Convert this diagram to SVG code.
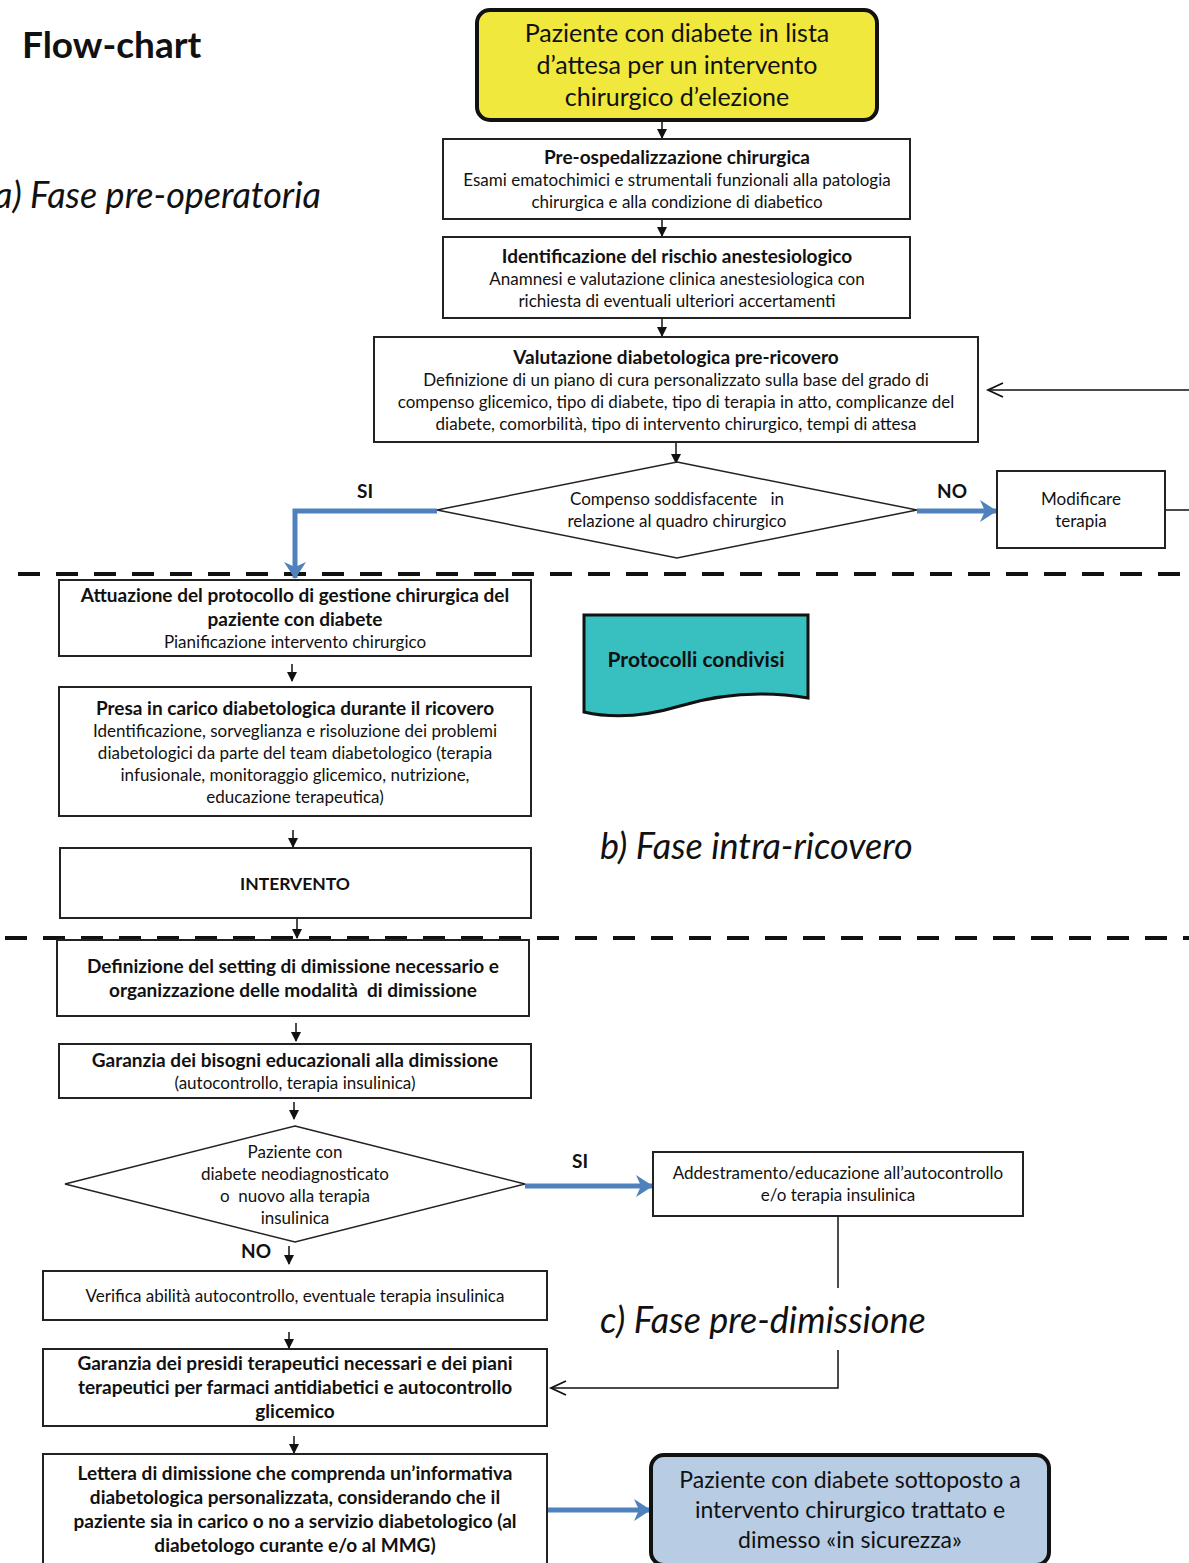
<svg xmlns="http://www.w3.org/2000/svg" width="1189" height="1563" viewBox="0 0 1189 1563">
<defs>
<style>
text{font-family:Lato,"Open Sans","Liberation Sans",sans-serif;fill:#111;text-anchor:middle}
.b{font-weight:bold}
.box{fill:#fff;stroke:#222;stroke-width:2}
.t{font-size:17px}
.h{font-size:19px;font-weight:bold}
.lab{font-size:19px;font-weight:bold}
.phase{font-size:36px;font-style:italic;text-anchor:start}
.ln{fill:none;stroke:#111;stroke-width:1.5}
.blue{fill:none;stroke:#4f81bd;stroke-width:5}
.dash{stroke:#111;stroke-width:4;stroke-dasharray:22 16}
</style>
<marker id="ah" markerWidth="10" markerHeight="10" refX="9" refY="5" orient="auto" markerUnits="userSpaceOnUse"><path d="M0,0 L10,5 L0,10 Z" fill="#111"/></marker>
<marker id="open" markerWidth="20" markerHeight="20" refX="16" refY="10" orient="auto" markerUnits="userSpaceOnUse"><path d="M1,3 L16,10 L1,17" fill="none" stroke="#111" stroke-width="1.8"/></marker>
<marker id="bh" markerWidth="22" markerHeight="24" refX="20" refY="12" orient="auto" markerUnits="userSpaceOnUse"><path d="M4,1 L21,12 L4,23 L9,12 Z" fill="#4f81bd"/></marker>
</defs>
<rect width="1189" height="1563" fill="#fff"/>

<text x="22" y="58" style="font-size:37px;font-weight:bold;text-anchor:start">Flow-chart</text>
<text x="-6" y="208" class="phase">a) Fase pre-operatoria</text>
<text x="600" y="859" class="phase">b) Fase intra-ricovero</text>
<text x="600" y="1333" class="phase">c) Fase pre-dimissione</text>

<g id="dividers">
<line x1="18" y1="574" x2="1189" y2="574" class="dash"/>
<line x1="5" y1="938" x2="1189" y2="938" class="dash"/>
</g>

<g id="connectors">
<line x1="662" y1="120" x2="662" y2="138" class="ln" marker-end="url(#ah)"/>
<line x1="662" y1="219" x2="662" y2="236" class="ln" marker-end="url(#ah)"/>
<line x1="662" y1="318" x2="662" y2="336" class="ln" marker-end="url(#ah)"/>
<line x1="676" y1="442" x2="676" y2="463" class="ln" marker-end="url(#ah)"/>
<path d="M437,511 H295 V578" class="blue" marker-end="url(#bh)"/>
<line x1="917" y1="511" x2="996" y2="511" class="blue" marker-end="url(#bh)"/>
<line x1="1165" y1="510" x2="1189" y2="510" class="ln"/>
<line x1="1189" y1="390" x2="988" y2="390" class="ln" marker-end="url(#open)"/>
<line x1="292" y1="664" x2="292" y2="681" class="ln" marker-end="url(#ah)"/>
<line x1="293" y1="830" x2="293" y2="847" class="ln" marker-end="url(#ah)"/>
<line x1="297" y1="918" x2="297" y2="938" class="ln" marker-end="url(#ah)"/>
<line x1="296" y1="1023" x2="296" y2="1041" class="ln" marker-end="url(#ah)"/>
<line x1="294" y1="1102" x2="294" y2="1119" class="ln" marker-end="url(#ah)"/>
<line x1="525" y1="1186" x2="652" y2="1186" class="blue" marker-end="url(#bh)"/>
<line x1="838" y1="1216" x2="838" y2="1288" class="ln"/>
<path d="M838,1350 V1388 H551" class="ln" marker-end="url(#open)"/>
<line x1="289" y1="1246" x2="289" y2="1264" class="ln" marker-end="url(#ah)"/>
<line x1="289" y1="1332" x2="289" y2="1348" class="ln" marker-end="url(#ah)"/>
<line x1="294" y1="1436" x2="294" y2="1453" class="ln" marker-end="url(#ah)"/>
<line x1="547" y1="1510" x2="650" y2="1510" class="blue" marker-end="url(#bh)"/>
<text x="365" y="498" class="lab">SI</text>
<text x="952" y="498" class="lab">NO</text>
<text x="580" y="1168" class="lab">SI</text>
<text x="256" y="1258" class="lab">NO</text>
</g>

<g id="start">
<rect x="477" y="10" width="400" height="110" rx="13" fill="#f0e83c" stroke="#111" stroke-width="4"/>
<text x="677" y="42" style="font-size:25px">Paziente con diabete in lista</text>
<text x="677" y="74" style="font-size:25px">d’attesa per un intervento</text>
<text x="677" y="106" style="font-size:25px">chirurgico d’elezione</text>
</g>

<g id="preosp">
<rect x="443" y="139" width="467" height="80" class="box"/>
<text x="677" y="164" class="h">Pre-ospedalizzazione chirurgica</text>
<text x="677" y="186" class="t">Esami ematochimici e strumentali funzionali alla patologia</text>
<text x="677" y="208" class="t">chirurgica e alla condizione di diabetico</text>
</g>

<g id="rischio">
<rect x="443" y="237" width="467" height="81" class="box"/>
<text x="677" y="263" class="h">Identificazione del rischio anestesiologico</text>
<text x="677" y="285" class="t">Anamnesi e valutazione clinica anestesiologica con</text>
<text x="677" y="307" class="t">richiesta di eventuali ulteriori accertamenti</text>
</g>

<g id="valutazione">
<rect x="374" y="337" width="604" height="105" class="box"/>
<text x="676" y="364" class="h">Valutazione diabetologica pre-ricovero</text>
<text x="676" y="386" class="t">Definizione di un piano di cura personalizzato sulla base del grado di</text>
<text x="676" y="408" class="t">compenso glicemico, tipo di diabete, tipo di terapia in atto, complicanze del</text>
<text x="676" y="430" class="t">diabete, comorbilità, tipo di intervento chirurgico, tempi di attesa</text>
</g>

<g id="compenso">
<polygon points="677,462 917,510 677,558 437,510" class="box" style="stroke-width:1.5"/>
<text x="677" y="505" class="t" xml:space="preserve">Compenso soddisfacente   in</text>
<text x="677" y="527" class="t">relazione al quadro chirurgico</text>
</g>

<g id="modificare">
<rect x="997" y="471" width="168" height="77" class="box"/>
<text x="1081" y="505" class="t">Modificare</text>
<text x="1081" y="527" class="t">terapia</text>
</g>

<g id="attuazione">
<rect x="59" y="580" width="472" height="76" class="box"/>
<text x="295" y="602" class="h">Attuazione del protocollo di gestione chirurgica del</text>
<text x="295" y="626" class="h">paziente con diabete</text>
<text x="295" y="648" class="t">Pianificazione intervento chirurgico</text>
</g>

<g id="protocolli">
<path d="M584,615 H808 V698 C760,690 720,694 680,706 C640,718 610,718 584,712 Z" fill="#38c0c0" stroke="#111" stroke-width="3"/>
<text x="696" y="667" class="h" style="font-size:21px">Protocolli condivisi</text>
</g>

<g id="presa">
<rect x="59" y="687" width="472" height="129" class="box"/>
<text x="295" y="715" class="h">Presa in carico diabetologica durante il ricovero</text>
<text x="295" y="737" class="t">Identificazione, sorveglianza e risoluzione dei problemi</text>
<text x="295" y="759" class="t">diabetologici da parte del team diabetologico (terapia</text>
<text x="295" y="781" class="t">infusionale, monitoraggio glicemico, nutrizione,</text>
<text x="295" y="803" class="t">educazione terapeutica)</text>
</g>

<g id="intervento">
<rect x="60" y="848" width="471" height="70" class="box"/>
<text x="295" y="890" class="b" style="font-size:17.5px">INTERVENTO</text>
</g>

<g id="definizione">
<rect x="57" y="940" width="472" height="76" class="box"/>
<text x="293" y="973" class="h">Definizione del setting di dimissione necessario e</text>
<text x="293" y="997" class="h" xml:space="preserve">organizzazione delle modalità  di dimissione</text>
</g>

<g id="garanzia">
<rect x="59" y="1044" width="472" height="54" class="box"/>
<text x="295" y="1067" class="h">Garanzia dei bisogni educazionali alla dimissione</text>
<text x="295" y="1089" class="t">(autocontrollo, terapia insulinica)</text>
</g>

<g id="neodiagnosticato">
<polygon points="295,1126 525,1184 295,1242 65,1184" class="box" style="stroke-width:1.5"/>
<text x="295" y="1158" class="t">Paziente con</text>
<text x="295" y="1180" class="t">diabete neodiagnosticato</text>
<text x="295" y="1202" class="t" xml:space="preserve">o  nuovo alla terapia</text>
<text x="295" y="1224" class="t">insulinica</text>
</g>

<g id="addestramento">
<rect x="653" y="1152" width="370" height="64" class="box"/>
<text x="838" y="1179" class="t">Addestramento/educazione all’autocontrollo</text>
<text x="838" y="1201" class="t">e/o terapia insulinica</text>
</g>

<g id="verifica">
<rect x="43" y="1271" width="504" height="49" class="box"/>
<text x="295" y="1302" class="t">Verifica abilità autocontrollo, eventuale terapia insulinica</text>
</g>

<g id="presidi">
<rect x="43" y="1349" width="504" height="77" class="box"/>
<text x="295" y="1370" class="h">Garanzia dei presidi terapeutici necessari e dei piani</text>
<text x="295" y="1394" class="h">terapeutici per farmaci antidiabetici e autocontrollo</text>
<text x="295" y="1418" class="h">glicemico</text>
</g>

<g id="lettera">
<rect x="43" y="1454" width="504" height="115" class="box"/>
<text x="295" y="1480" class="h">Lettera di dimissione che comprenda un’informativa</text>
<text x="295" y="1504" class="h">diabetologica personalizzata, considerando che il</text>
<text x="295" y="1528" class="h">paziente sia in carico o no a servizio diabetologico (al</text>
<text x="295" y="1552" class="h">diabetologo curante e/o al MMG)</text>
</g>

<g id="end">
<rect x="651" y="1455" width="398" height="110" rx="13" fill="#b8cce4" stroke="#111" stroke-width="4"/>
<text x="850" y="1488" style="font-size:23px">Paziente con diabete sottoposto a</text>
<text x="850" y="1518" style="font-size:23px">intervento chirurgico trattato e</text>
<text x="850" y="1548" style="font-size:23px">dimesso «in sicurezza»</text>
</g>
</svg>
